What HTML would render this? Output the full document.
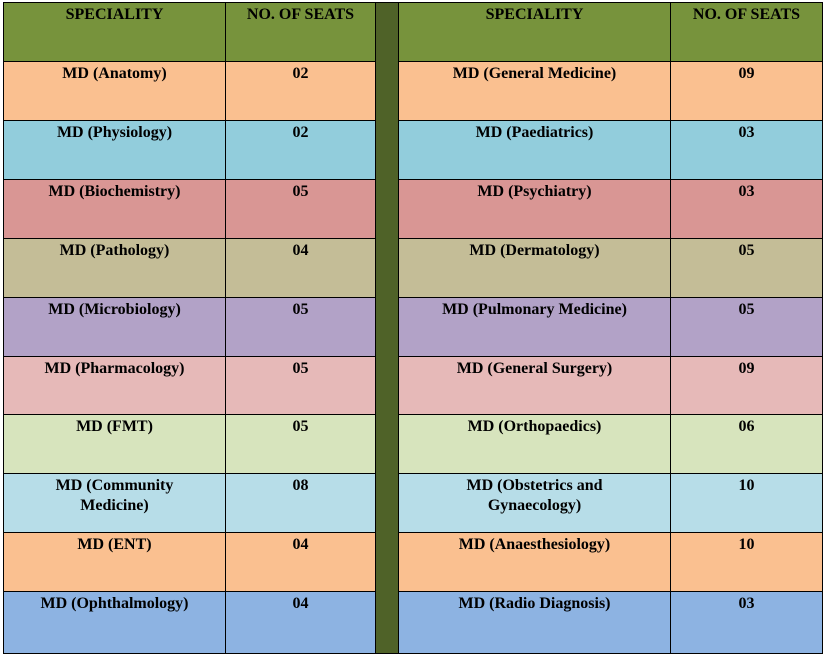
<!DOCTYPE html>
<html><head><meta charset="utf-8"><style>
body{margin:0;width:824px;height:656px;background:#fff;overflow:hidden}
#t{position:absolute;left:3px;top:2px}
.c{position:absolute;box-sizing:border-box;border:1px solid #000;font:bold 16px/20px "Liberation Serif",serif;color:#000;text-align:center;padding-top:2px}
</style></head><body>
<div id="t"></div>
<script>
const leftSpec=["MD (Anatomy)","MD (Physiology)","MD (Biochemistry)","MD (Pathology)","MD (Microbiology)","MD (Pharmacology)","MD (FMT)","MD (Community<br>Medicine)","MD (ENT)","MD (Ophthalmology)"];
const leftSeats=["02","02","05","04","05","05","05","08","04","04"];
const rightSpec=["MD (General Medicine)","MD (Paediatrics)","MD (Psychiatry)","MD (Dermatology)","MD (Pulmonary Medicine)","MD (General Surgery)","MD (Orthopaedics)","MD (Obstetrics and<br>Gynaecology)","MD (Anaesthesiology)","MD (Radio Diagnosis)"];
const rightSeats=["09","03","03","05","05","09","06","10","10","03"];
const colors=["#fac090","#92cddc","#d99694","#c4bd97","#b2a2c7","#e6b9b8","#d7e4bd","#b7dde8","#fac090","#8db3e2"];
const colX=[0,222,372,395,667,819];
const rowY=[0,59,118,177,236,295,354,412,471,530,589,651];
const t=document.getElementById('t');
function cell(ci,ri,html,bg,name){
  const d=document.createElement('div');d.className='c';
  
  
  d.style.left=colX[ci]+'px';d.style.top=rowY[ri]+'px';
  d.style.width=(colX[ci+1]-colX[ci]+1)+'px';d.style.height=(rowY[ri+1]-rowY[ri]+1)+'px';
  d.style.background=bg;d.innerHTML=html;t.appendChild(d);
}
cell(0,0,"SPECIALITY","#77933c","header-speciality-left");
cell(1,0,"NO. OF SEATS","#77933c","header-seats-left");
cell(3,0,"SPECIALITY","#77933c","header-speciality-right");
cell(4,0,"NO. OF SEATS","#77933c","header-seats-right");
const sep=document.createElement('div');sep.className='c';


sep.style.left=colX[2]+'px';sep.style.top='0px';sep.style.width=(colX[3]-colX[2]+1)+'px';sep.style.height=(rowY[11]+1)+'px';sep.style.background='#4f6228';
t.appendChild(sep);
for(let i=0;i<10;i++){
  cell(0,i+1,leftSpec[i],colors[i],"speciality-left");
  cell(1,i+1,leftSeats[i],colors[i],"seats-left");
  cell(3,i+1,rightSpec[i],colors[i],"speciality-right");
  cell(4,i+1,rightSeats[i],colors[i],"seats-right");
}
</script>
</body></html>
